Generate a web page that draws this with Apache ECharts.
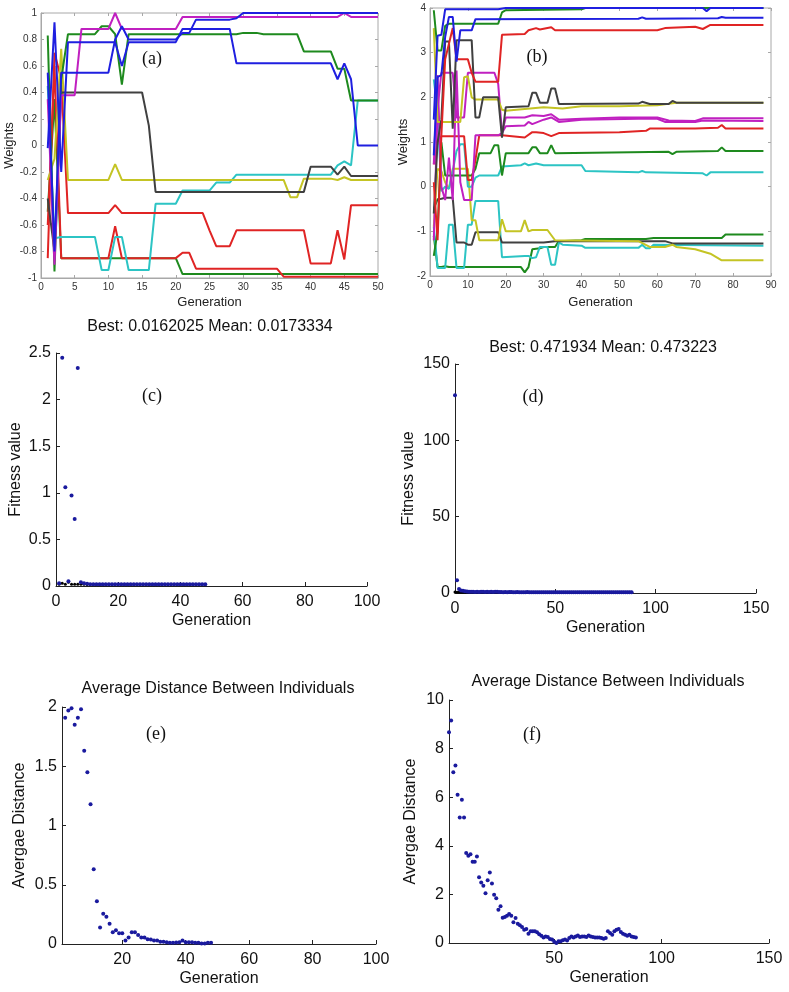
<!DOCTYPE html>
<html><head><meta charset="utf-8">
<script src="https://cdn.jsdelivr.net/npm/echarts@6/dist/echarts.min.js"></script>
<style>html,body{margin:0;padding:0;background:#fff}#c{width:789px;height:992px}</style>
</head><body><div id="c"></div>
<script>
// ---------- Panel (a): weights vs generation ([generation, weight]) ----------
const aBlue1 = [[1,0.55],[2,-0.8],[3,0.55],[10,0.55],[11,0.8],[12,0.9],[13,0.8],[20,0.8],[21,0.85],[22,0.85],[23,0.95],[28,0.95],[29,0.96],[30,1],[50,1]];
const aBlue2 = [[1,-0.02],[2,0.93],[3,-0.2],[4,0.78],[11,0.78],[12,0.6],[13,0.78],[20,0.78],[21,0.88],[28,0.88],[29,0.62],[43,0.62],[44,0.5],[45,0.62],[46,0.5],[47,0],[50,0]];
const aMagenta = [[1,0.35],[2,-0.9],[3,0.38],[5,0.38],[6,0.88],[10,0.88],[11,1.0],[12,0.88],[20,0.88],[21,0.97],[44,0.97],[45,1.0],[46,0.97],[50,0.97]];
const aGreen1 = [[1,0.83],[2,-0.95],[3,0.5],[4,0.84],[8,0.84],[9,0.9],[10,0.9],[11,0.84],[12,0.46],[13,0.84],[29,0.84],[30,0.85],[32,0.85],[33,0.84],[38,0.84],[39,0.71],[43,0.71],[44,0.58],[45,0.58],[46,0.34],[50,0.34]];
const aGreen2 = [[1,-0.5],[2,0.35],[3,-0.85],[20,-0.85],[21,-0.97],[50,-0.97]];
const aGray = [[1,-0.4],[2,-0.8],[3,0.4],[15,0.4],[16,0.15],[17,-0.35],[39,-0.35],[40,-0.16],[43,-0.16],[44,-0.22],[45,-0.16],[46,-0.23],[50,-0.23]];
const aYellow = [[1,-0.26],[2,-0.1],[3,0.73],[4,-0.26],[10,-0.26],[11,-0.14],[12,-0.26],[36,-0.26],[37,-0.39],[38,-0.39],[39,-0.25],[43,-0.25],[44,-0.26],[45,-0.24],[46,-0.26],[50,-0.26]];
const aCyan = [[1,0.45],[2,-0.7],[3,-0.69],[8,-0.69],[9,-0.94],[10,-0.94],[11,-0.69],[12,-0.69],[13,-0.94],[16,-0.94],[17,-0.44],[20,-0.44],[21,-0.34],[25,-0.34],[26,-0.28],[28,-0.28],[29,-0.22],[43,-0.22],[44,-0.15],[45,-0.12],[46,-0.15],[47,0.34],[50,0.34]];
const aRed1 = [[1,-0.85],[2,0.7],[3,0.5],[4,-0.51],[10,-0.51],[11,-0.45],[12,-0.51],[24,-0.51],[25,-0.64],[26,-0.76],[28,-0.76],[29,-0.64],[39,-0.64],[40,-0.89],[43,-0.89],[44,-0.64],[45,-0.86],[46,-0.45],[50,-0.45]];
const aRed2 = [[1,-0.6],[2,0.6],[3,-0.85],[10,-0.85],[11,-0.61],[12,-0.85],[20,-0.85],[21,-0.81],[22,-0.81],[23,-0.93],[35,-0.93],[36,-0.99],[50,-0.99]];

// ---------- Panel (b): weights vs generation ----------
const bBlue1 = [[1,1.5],[2,3.38],[3,3.4],[4,3.97],[18,3.97],[20,4],[72,4],[73,3.93],[74,4],[88,4]];
const bBlue2 = [[1,0.7],[2,2.45],[3,2.5],[4,3.35],[5,3.8],[6,3.8],[7,2.8],[8,3.5],[11,3.5],[12,3.75],[55,3.76],[56,3.79],[57,3.76],[76,3.77],[77,3.8],[78,3.78],[88,3.78]];
const bGreen1 = [[1,3.95],[2,3.05],[3,3.05],[4,3.6],[5,3.65],[18,3.65],[19,3.9],[20,3.95],[40,3.97],[41,4],[88,4]];
const bGreen2 = [[1,-1.55],[2,-1.0],[3,1.0],[4,0.25],[11,0.25],[12,0.4],[13,0.75],[16,0.75],[17,0.93],[18,0.93],[19,0.25],[20,0.75],[26,0.75],[27,0.88],[28,0.88],[29,0.75],[31,0.75],[32,0.93],[33,0.75],[63,0.78],[64,0.73],[65,0.78],[76,0.8],[77,0.88],[78,0.8],[88,0.8]];
const bGreen3 = [[1,-1.1],[2,-1.8],[3,-1.8],[4,-1.78],[5,-1.8],[24,-1.8],[25,-1.92],[26,-1.8],[27,-1.4],[29,-1.38],[30,-1.35],[33,-1.35],[34,-1.22],[40,-1.2],[41,-1.17],[57,-1.17],[59,-1.15],[77,-1.15],[78,-1.07],[88,-1.07]];
const bRed1 = [[1,0.1],[2,-1.2],[3,1.15],[4,2.85],[5,3.2],[6,3.55],[7,2.85],[10,2.85],[11,2.55],[12,2.35],[18,2.35],[19,3.4],[25,3.42],[26,3.5],[28,3.55],[29,3.52],[32,3.57],[33,3.5],[60,3.5],[62,3.55],[70,3.58],[72,3.53],[74,3.62],[88,3.62]];
const bRed2 = [[1,0.5],[2,1.0],[3,1.13],[9,1.13],[10,0.15],[11,0.15],[12,0.6],[13,1.15],[19,1.15],[25,1.1],[27,1.22],[28,1.22],[30,1.2],[32,1.13],[34,1.2],[50,1.22],[57,1.25],[58,1.3],[70,1.3],[76,1.32],[77,1.38],[78,1.3],[88,1.3]];
const bGray1 = [[1,-0.6],[2,1.0],[3,1.5],[4,3.25],[5,3.25],[6,1.3],[7,3.28],[11,3.28],[12,1.55],[13,1.55],[14,2.0],[18,2.0],[19,1.1],[20,1.78],[26,1.8],[27,2.1],[28,2.1],[29,1.88],[31,1.88],[32,2.2],[33,2.2],[34,1.85],[55,1.86],[56,1.9],[58,1.85],[63,1.85],[64,1.92],[65,1.88],[88,1.88]];
const bGray2 = [[1,-0.5],[2,-0.28],[3,-0.27],[4,-0.25],[6,-0.25],[7,-1.25],[9,-1.25],[10,-1.3],[11,-1.3],[12,-1.02],[18,-1.02],[19,-1.25],[30,-1.25],[33,-1.22],[62,-1.22],[64,-1.27],[88,-1.27]];
const bYellow1 = [[1,3.55],[2,1.45],[8,1.45],[9,2.45],[10,2.47],[11,2.0],[12,1.95],[18,1.95],[19,1.72],[20,1.7],[30,1.78],[35,1.75],[40,1.8],[50,1.8],[60,1.82],[65,1.88],[88,1.88]];
const bYellow2 = [[1,-0.9],[2,0.4],[3,0.35],[4,0.1],[5,-0.05],[6,0.4],[10,0.4],[11,-0.75],[12,-0.75],[13,-1.2],[18,-1.2],[19,-0.73],[20,-1.0],[24,-1.0],[25,-0.75],[26,-1.0],[27,-0.97],[31,-0.97],[33,-1.2],[55,-1.22],[58,-1.35],[62,-1.35],[64,-1.3],[65,-1.35],[70,-1.4],[74,-1.5],[77,-1.65],[88,-1.65]];
const bMagenta1 = [[1,-1.2],[2,1.75],[3,2.55],[6,2.55],[7,1.55],[9,1.55],[10,2.55],[17,2.55],[18,2.3],[19,1.2],[20,1.55],[25,1.55],[27,1.6],[30,1.58],[32,1.62],[34,1.5],[40,1.52],[50,1.55],[60,1.55],[63,1.48],[70,1.47],[72,1.53],[88,1.53]];
const bMagenta2 = [[1,0.5],[2,2.5],[3,0.0],[4,-0.3],[5,0.65],[6,-0.3],[7,2.6],[8,0.1],[9,-0.3],[11,-0.3],[12,1.15],[18,1.15],[19,1.2],[20,1.35],[25,1.37],[26,1.45],[27,1.4],[30,1.5],[32,1.55],[34,1.45],[40,1.5],[55,1.52],[60,1.52],[62,1.45],[70,1.45],[72,1.48],[88,1.47]];
const bCyan1 = [[1,2.4],[2,1.7],[3,-0.1],[4,0.0],[5,-0.05],[6,0.35],[7,0.8],[8,0.95],[9,0.95],[10,0.0],[11,0.0],[12,0.2],[13,0.25],[18,0.25],[19,0.45],[24,0.48],[25,0.52],[26,0.48],[28,0.52],[30,0.48],[40,0.48],[41,0.35],[55,0.32],[56,0.35],[57,0.32],[72,0.3],[73,0.25],[74,0.32],[88,0.32]];
const bCyan2 = [[1,-0.9],[2,-1.82],[4,-1.82],[5,-0.85],[6,-0.85],[7,-1.82],[9,-1.82],[10,-0.85],[11,-0.85],[12,-0.32],[18,-0.32],[19,-1.58],[25,-1.55],[26,-1.55],[27,-1.6],[28,-1.58],[29,-1.35],[31,-1.35],[32,-1.75],[33,-1.75],[34,-1.25],[35,-1.3],[40,-1.32],[41,-1.37],[55,-1.37],[56,-1.3],[57,-1.38],[58,-1.38],[59,-1.3],[88,-1.32]];

// ---------- Panel (c): fitness per generation (gen 1..48) ----------
const cMean = [0.03,2.45,1.06,0.05,0.97,0.72,2.34,0.04,0.03,0.025,0.02,0.02,0.02,0.02,0.02,0.02,0.02,0.02,0.02,0.02,0.02,0.02,0.02,0.02,0.02,0.02,0.02,0.02,0.02,0.02,0.02,0.02,0.02,0.02,0.02,0.02,0.02,0.02,0.02,0.02,0.02,0.02,0.02,0.02,0.02,0.02,0.02,0.02];
const cBest = [0.02,0.03,0.02,0.04,0.02,0.02,0.02,0.02,0.018,0.017,0.017,0.017,0.016,0.016,0.016,0.016,0.016,0.016,0.016,0.016,0.016,0.016,0.016,0.016,0.016,0.016,0.016,0.016,0.016,0.016,0.016,0.016,0.016,0.016,0.016,0.016,0.016,0.016,0.016,0.016,0.016,0.016,0.016,0.016,0.016,0.016,0.016,0.016];

// ---------- Panel (d): fitness per generation (gen 0..88) ----------
const dMean = [129.5,8.3,2.6,1.7,1.5,1.2,1.0,0.9,0.8,0.8,0.7,0.9,0.7,0.8,0.9,0.7,0.8,0.6,0.9,0.7,0.8,0.9,0.6,0.6,0.5,0.6,0.5,0.6,0.7,0.5,0.5,0.6,0.5,0.5,0.5,0.5,0.6,0.5,0.5,0.5,0.5,0.5,0.5,0.5,0.5,0.5,0.5,0.5,0.5,0.5,0.5,0.5,0.5,0.5,0.5,0.5,0.5,0.5,0.5,0.5,0.5,0.5,0.5,0.5,0.5,0.5,0.5,0.5,0.5,0.5,0.5,0.5,0.5,0.5,0.5,0.5,0.5,0.5,0.5,0.5,0.5,0.5,0.5,0.5,0.5,0.5,0.5,0.5,0.5];
const dBest = [0.6,0.55,0.5,0.5,0.49,0.48,0.48,0.48,0.48,0.48,0.48,0.48,0.48,0.48,0.48,0.48,0.48,0.48,0.48,0.48,0.48,0.48,0.48,0.48,0.48,0.48,0.48,0.48,0.48,0.48,0.48,0.48,0.48,0.48,0.48,0.48,0.48,0.48,0.48,0.48,0.48,0.48,0.48,0.48,0.48,0.48,0.48,0.48,0.48,0.48,0.48,0.48,0.48,0.48,0.48,0.48,0.48,0.48,0.48,0.48,0.48,0.48,0.48,0.48,0.48,0.48,0.48,0.48,0.48,0.48,0.48,0.48,0.48,0.48,0.48,0.48,0.48,0.48,0.47,0.47,0.47,0.47,0.47,0.47,0.47,0.47,0.47,0.47,0.47];

// ---------- Panel (e): average distance (gen 2..48) ----------
const eDist = [1.91,1.97,1.99,1.85,1.91,1.98,1.63,1.45,1.18,0.63,0.36,0.14,0.255,0.23,0.17,0.10,0.115,0.09,0.09,0.03,0.055,0.10,0.10,0.075,0.055,0.055,0.04,0.037,0.03,0.03,0.02,0.02,0.015,0.01,0.01,0.012,0.015,0.03,0.015,0.015,0.015,0.01,0.01,0.005,0.005,0.01,0.01];

// ---------- Panel (f): average distance (gen 1..88) ----------
const fDist = [8.67,9.16,7.03,7.30,6.10,5.16,5.89,5.16,3.70,3.59,3.65,3.34,3.34,3.56,2.71,2.49,2.36,2.05,2.58,2.90,2.45,1.99,1.84,1.37,1.51,1.04,1.07,1.12,1.19,1.12,0.85,1.03,0.79,0.73,0.66,0.55,0.58,0.38,0.48,0.48,0.48,0.44,0.36,0.30,0.23,0.27,0.25,0.16,0.14,0.05,0.0,0.07,0.07,0.11,0.14,0.10,0.21,0.27,0.23,0.27,0.31,0.25,0.27,0.27,0.25,0.31,0.27,0.25,0.23,0.23,0.23,0.21,0.18,0.21,0.48,0.41,0.34,0.48,0.55,0.58,0.45,0.38,0.34,0.30,0.34,0.27,0.25,0.23];

// ---------- tick labels / titles ----------
const titleC = 'Best: 0.0162025 Mean: 0.0173334';
const titleD = 'Best: 0.471934 Mean: 0.473223';
const titleEF = 'Average Distance Between Individuals';
const eTicks = [20,40,60,80,100];
const fTicks = [50,100,150];

const C = {blue:'#1f1fe0', green:'#1e8a1e', red:'#e02424', cyan:'#2cc4c4', magenta:'#c020c0', yellow:'#c4c424', gray:'#404040'};
const SANS = 'Liberation Sans, Arial, sans-serif';
const SERIF = 'Liberation Serif, Times New Roman, serif';

const grids = [
  {left:41, top:13, width:337, height:265, show:true, borderColor:'#a8a8a8', borderWidth:1},
  {left:430, top:8, width:341, height:268, show:true, borderColor:'#a8a8a8', borderWidth:1},
  {left:56, top:353, width:311, height:233},
  {left:455, top:364, width:301, height:229},
  {left:62, top:707, width:314, height:237},
  {left:449, top:700, width:320, height:243}
];

function boxX(g, min, max, interval, name, gap){
  return {type:'value', gridIndex:g, min, max, interval, name, nameLocation:'middle', nameGap:gap,
    nameTextStyle:{fontFamily:SANS, fontSize:13, color:'#222'},
    axisLine:{show:true, onZero:false, lineStyle:{color:'#a8a8a8'}},
    axisTick:{inside:true, length:3, lineStyle:{color:'#a8a8a8'}},
    axisLabel:{fontFamily:SANS, fontSize:10, color:'#333', margin:4},
    splitLine:{show:false}};
}
function boxY(g, min, max, interval, name, gap){
  return {type:'value', gridIndex:g, min, max, interval, name, nameLocation:'middle', nameGap:gap,
    nameTextStyle:{fontFamily:SANS, fontSize:13, color:'#222'},
    axisLine:{show:true, onZero:false, lineStyle:{color:'#a8a8a8'}},
    axisTick:{inside:true, length:3, lineStyle:{color:'#a8a8a8'}},
    axisLabel:{fontFamily:SANS, fontSize:10, color:'#333', margin:4},
    splitLine:{show:false}};
}
function boxOpp(isX, g, min, max, interval){
  return {type:'value', gridIndex:g, min, max, interval, position: isX ? 'top' : 'right',
    axisLine:{show:false, onZero:false}, axisLabel:{show:false}, splitLine:{show:false},
    axisTick:{inside:true, length:3, lineStyle:{color:'#a8a8a8'}}};
}
function plainX(g, min, max, interval, gap, custom){
  const ax = {type:'value', gridIndex:g, min, max, name:'Generation', nameLocation:'middle', nameGap:gap,
    nameTextStyle:{fontFamily:SANS, fontSize:16, color:'#111'},
    axisLine:{show:true, onZero:false, lineStyle:{color:'#222'}},
    axisTick:{inside:true, length:4, lineStyle:{color:'#222'}},
    axisLabel:{fontFamily:SANS, fontSize:16, color:'#111', margin:8},
    splitLine:{show:false}};
  if (custom) { ax.axisLabel.customValues = custom; ax.axisTick.customValues = custom; }
  else ax.interval = interval;
  return ax;
}
function plainY(g, min, max, interval, name, gap){
  return {type:'value', gridIndex:g, min, max, interval, name, nameLocation:'middle', nameGap:gap,
    nameTextStyle:{fontFamily:SANS, fontSize:16, color:'#111'},
    axisLine:{show:true, onZero:false, lineStyle:{color:'#222'}},
    axisTick:{inside:true, length:4, lineStyle:{color:'#222'}},
    axisLabel:{fontFamily:SANS, fontSize:16, color:'#111', margin:5},
    splitLine:{show:false}};
}

const xAxes = [
  boxX(0, 0, 50, 5, 'Generation', 18),
  boxX(1, 0, 90, 10, 'Generation', 20),
  plainX(2, 0, 100, 20, 27),
  plainX(3, 0, 150, 50, 27),
  plainX(4, 1, 100, null, 27, eTicks),
  plainX(5, 1, 150, null, 27, fTicks),
  boxOpp(true, 0, 0, 50, 5),
  boxOpp(true, 1, 0, 90, 10)
];
const yAxes = [
  boxY(0, -1, 1, 0.2, 'Weights', 24),
  boxY(1, -2, 4, 1, 'Weights', 20),
  plainY(2, 0, 2.5, 0.5, 'Fitness value', 32),
  plainY(3, 0, 150, 50, 'Fitness value', 38),
  plainY(4, 0, 2, 0.5, 'Avergae Distance', 34),
  plainY(5, 0, 10, 2, 'Avergae Distance', 30),
  boxOpp(false, 0, -1, 1, 0.2),
  boxOpp(false, 1, -2, 4, 1)
];

function line(data, color, ax){
  return {type:'line', xAxisIndex:ax, yAxisIndex:ax, data, showSymbol:false, silent:true,
    lineStyle:{color, width:2}, itemStyle:{color}};
}
function pts(vals, startGen, color, ax, size){
  return {type:'scatter', xAxisIndex:ax, yAxisIndex:ax, symbol:'circle', symbolSize:size||4,
    data: vals.map((v,i)=>[startGen+i, v]), itemStyle:{color, opacity:1}, silent:true};
}

const series = [
  line(aGreen2,C.green,0), line(aRed2,C.red,0), line(aCyan,C.cyan,0), line(aRed1,C.red,0),
  line(aYellow,C.yellow,0), line(aGray,C.gray,0), line(aGreen1,C.green,0), line(aMagenta,C.magenta,0),
  line(aBlue1,C.blue,0), line(aBlue2,C.blue,0),
  line(bGreen3,C.green,1), line(bCyan2,C.cyan,1), line(bGray2,C.gray,1), line(bYellow2,C.yellow,1),
  line(bCyan1,C.cyan,1), line(bGreen2,C.green,1), line(bRed2,C.red,1), line(bMagenta2,C.magenta,1),
  line(bMagenta1,C.magenta,1), line(bYellow1,C.yellow,1), line(bGray1,C.gray,1), line(bRed1,C.red,1),
  line(bGreen1,C.green,1), line(bBlue2,C.blue,1), line(bBlue1,C.blue,1),
  pts(cBest, 1, '#000', 2, 3), pts(cMean, 1, '#1a1a9e', 2, 4),
  pts(dBest, 0, '#000', 3, 3), pts(dMean, 0, '#1a1a9e', 3, 4),
  pts(eDist, 2, '#1a1a9e', 4, 4),
  pts(fDist, 1, '#1a1a9e', 5, 4)
];

function txt(x, y, text, font, size){
  return {type:'text', x, y, style:{text, fontFamily:font, fontSize:size, fill:'#111', textAlign:'center', textVerticalAlign:'middle'}};
}
const graphics = [
  txt(152, 59, '(a)', SERIF, 18),
  txt(537, 57, '(b)', SERIF, 18),
  txt(152, 396, '(c)', SERIF, 18),
  txt(533, 397, '(d)', SERIF, 18),
  txt(156, 734, '(e)', SERIF, 18),
  txt(532, 735, '(f)', SERIF, 18),
  txt(210, 327, titleC, SANS, 16),
  txt(603, 348, titleD, SANS, 16),
  txt(218, 689, titleEF, SANS, 16),
  txt(608, 682, titleEF, SANS, 16)
];

const chart = echarts.init(document.getElementById('c'), null, {renderer:'canvas'});
chart.setOption({
  animation:false,
  backgroundColor:'#fff',
  grid: grids,
  xAxis: xAxes,
  yAxis: yAxes,
  series,
  graphic: graphics
});
</script>
</body></html>
